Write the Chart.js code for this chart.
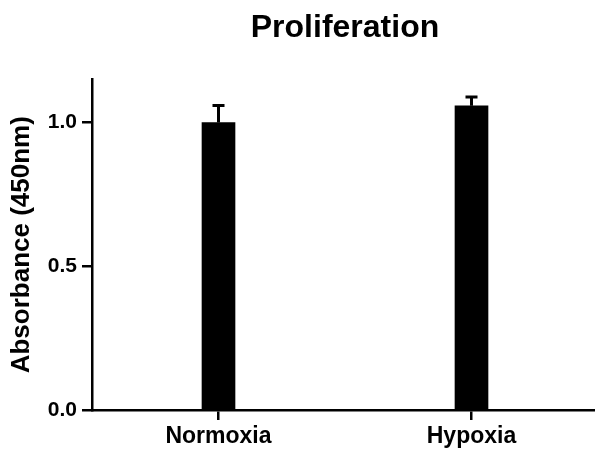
<!DOCTYPE html>
<html>
<head>
<meta charset="utf-8">
<script src="https://cdn.jsdelivr.net/npm/chart.js@4"></script>
<style>
  html, body { margin: 0; padding: 0; background: #fff; overflow: hidden; }
  #wrap { width: 598px; height: 450px; position: relative; }
</style>
</head>
<body>
<div id="wrap"><canvas id="c"></canvas></div>
<script>
const categories = ['Normoxia', 'Hypoxia'];
const means = [1.0, 1.058];
const errors = [0.059, 0.031];
const yTicks = [0, 0.5, 1.0];
const yMax = 1.15;

const FONT = '"Liberation Sans", Arial, sans-serif';

const errorBars = {
  id: 'errorBars',
  afterDatasetsDraw(chart) {
    const ctx = chart.ctx;
    const meta = chart.getDatasetMeta(0);
    const ys = chart.scales.y;
    ctx.save();
    ctx.strokeStyle = '#000';
    ctx.lineWidth = 3;
    meta.data.forEach((bar, i) => {
      const x = bar.x;
      const y0 = ys.getPixelForValue(means[i]);
      const y1 = ys.getPixelForValue(means[i] + errors[i]);
      ctx.beginPath();
      ctx.moveTo(x, y0);
      ctx.lineTo(x, y1);
      ctx.moveTo(x - 6, y1);
      ctx.lineTo(x + 6, y1);
      ctx.stroke();
    });
    ctx.restore();
  }
};

new Chart(document.getElementById('c'), {
  type: 'bar',
  data: {
    labels: categories,
    datasets: [{
      data: means,
      backgroundColor: '#000',
      borderWidth: 0,
      barThickness: 33
    }]
  },
  options: {
    responsive: true,
    maintainAspectRatio: false,
    animation: false,
    layout: { padding: { left: 0, right: 0, top: 0, bottom: 0 } },
    plugins: {
      legend: { display: false },
      tooltip: { enabled: false },
      title: {
        display: true,
        text: 'Proliferation',
        fullSize: false,
        color: '#000',
        font: { family: FONT, size: 32, weight: 'bold' },
        padding: { top: 9, bottom: 32 }
      }
    },
    scales: {
      x: {
        grid: { display: true, drawOnChartArea: false, drawTicks: true, tickLength: 10, offset: false, color: '#000', lineWidth: 2.5 },
        border: { display: true, color: '#000', width: 2.5 },
        ticks: { color: '#000', padding: 3, font: { family: FONT, size: 23, weight: 'bold' } },
        afterFit(scale) { scale.height = 40; }
      },
      y: {
        min: 0,
        max: yMax,
        afterBuildTicks(scale) {
          scale.ticks = yTicks.map(v => ({ value: v }));
        },
        grid: { display: true, drawOnChartArea: false, drawTicks: true, tickLength: 10, color: '#000', lineWidth: 2.5 },
        border: { display: true, color: '#000', width: 2.5 },
        ticks: {
          color: '#000', padding: 5,
          font: { family: FONT, size: 21, weight: 'bold' },
          callback: (v) => Number(v).toFixed(1)
        },
        title: {
          display: true,
          text: 'Absorbance (450nm)',
          color: '#000',
          font: { family: FONT, size: 26, weight: 'bold' },
          padding: { top: 6, bottom: 0 }
        },
        afterFit(scale) { scale.width = 92; }
      }
    }
  },
  plugins: [errorBars]
});
</script>
</body>
</html>
